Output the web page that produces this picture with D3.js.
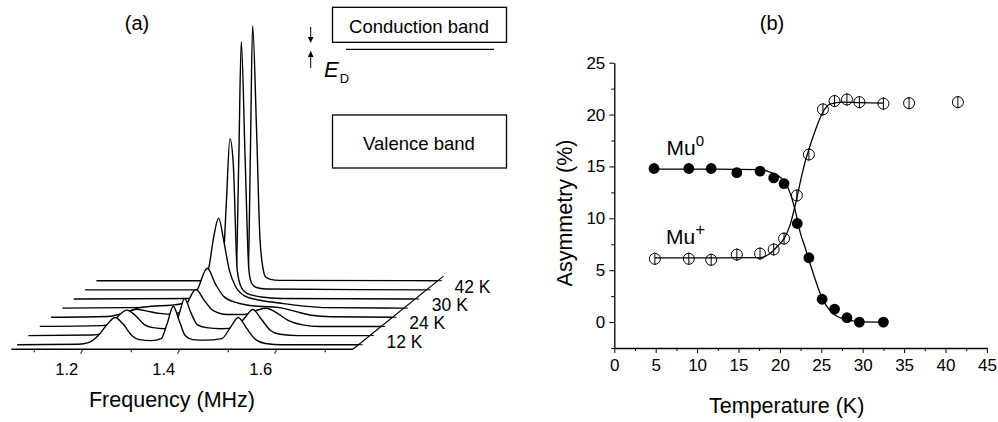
<!DOCTYPE html>
<html>
<head>
<meta charset="utf-8">
<script src="https://cdn.jsdelivr.net/npm/d3@7"></script>
<style>
  html, body { margin: 0; padding: 0; background: #fff; }
  svg { display: block; font-family: "Liberation Sans", Arial, Helvetica, sans-serif; }
</style>
</head>
<body>
<svg id="chart" width="998" height="422"></svg>
<script>
// ---------- Panel (a): muon spin rotation spectra, stacked by temperature ----------
const freqMajorTicks = [1.2, 1.4, 1.6];
const freqMinorTicks = [1.1, 1.3, 1.5, 1.7];
const sliceLabelIndex = [0, 2, 4, 6];
const sliceLabels = ["12 K", "24 K", "30 K", "42 K"];

// [frequency (MHz), intensity (% of the largest line)], front slice first
const spectrum0 = [[1.053,0],[1.18,0.2],[1.2,0.8],[1.22,3.5],[1.238,7.8],[1.255,10.7],[1.272,8],[1.29,3.5],[1.305,2],[1.33,1.6],[1.35,2.4],[1.362,8],[1.375,15.1],[1.388,9],[1.4,3.5],[1.415,2],[1.44,1.8],[1.475,2.4],[1.492,6.5],[1.509,10.7],[1.526,6.5],[1.545,2],[1.565,0.5],[1.6,0],[1.757,0]];
const spectrum1 = [[1.053,0],[1.185,0.2],[1.205,1],[1.222,3.9],[1.24,8],[1.256,10.0],[1.273,8],[1.292,4.3],[1.31,3.1],[1.335,2.7],[1.352,3.5],[1.363,8],[1.375,14.5],[1.388,9],[1.401,4.3],[1.42,3.1],[1.45,2.7],[1.48,3.1],[1.498,6.7],[1.516,10.2],[1.533,6.5],[1.552,2],[1.572,0.5],[1.61,0],[1.757,0]];
const spectrum2 = [[1.053,0],[1.18,0.3],[1.21,2],[1.232,5],[1.252,6.7],[1.272,6.1],[1.3,5.1],[1.33,4.7],[1.352,7.5],[1.375,14.5],[1.393,10],[1.41,6.3],[1.44,4.7],[1.475,4.7],[1.5,6.3],[1.52,7.1],[1.54,5.5],[1.565,2.4],[1.595,0.6],[1.63,0],[1.757,0]];
const spectrum3 = [[1.053,0],[1.17,0.3],[1.2,1.5],[1.23,3.5],[1.26,4.3],[1.3,4.7],[1.335,5.9],[1.355,11],[1.375,19.2],[1.392,13],[1.41,8],[1.44,5.5],[1.48,4.3],[1.52,3.9],[1.555,2.4],[1.59,0.8],[1.63,0.2],[1.757,0]];
const spectrum4 = [[1.053,0],[1.25,0.3],[1.3,1.2],[1.33,3],[1.345,8.5],[1.356,17],[1.365,28],[1.375,35.3],[1.386,26],[1.397,15],[1.41,8.5],[1.43,4.7],[1.46,3.1],[1.5,2],[1.55,0.8],[1.6,0.2],[1.757,0]];
const spectrum5 = [[1.053,0],[1.3,0.2],[1.335,1],[1.35,3],[1.36,11.4],[1.3675,37.3],[1.375,62.9],[1.3818,53.3],[1.39,11.4],[1.398,4.7],[1.41,2.2],[1.44,0.8],[1.48,0.2],[1.757,0]];
const spectrum6 = [[1.053,0],[1.345,0],[1.358,1.2],[1.3647,7.8],[1.37,52.5],[1.375,97.3],[1.383,51],[1.3907,7.8],[1.396,2.7],[1.405,1],[1.425,0.3],[1.757,0]];
const spectrum7 = [[1.053,0],[1.35,0],[1.36,1],[1.366,4.7],[1.3705,51],[1.375,100],[1.3832,58.8],[1.39,17.3],[1.397,4.2],[1.402,1.4],[1.412,0.5],[1.43,0.1],[1.757,0]];
const spectra = [spectrum0, spectrum1, spectrum2, spectrum3, spectrum4, spectrum5, spectrum6, spectrum7];

// ---------- Panel (b): asymmetry of the two muonium states ----------
const tempMuZero = [4.8, 9.0, 11.7, 14.8, 17.6, 19.25, 20.5, 22.1, 23.5, 25.1, 26.6, 28.1, 29.6, 32.5];
const asymMuZero = [14.8, 14.8, 14.8, 14.4, 14.55, 13.9, 13.35, 9.5, 6.2, 2.2, 1.25, 0.42, 0.0, 0.0];
const tempMuPlus = [4.9, 9.0, 11.7, 14.8, 17.6, 19.25, 20.5, 22.05, 23.5, 25.2, 26.6, 28.1, 29.6, 32.5, 35.6, 41.5];
const asymMuPlus = [6.1, 6.1, 6.0, 6.5, 6.6, 7.0, 8.05, 12.2, 16.15, 20.5, 21.3, 21.45, 21.2, 21.05, 21.1, 21.2];
const errMuPlus  = [0.6, 0.6, 0.6, 0.6, 0.6, 0.6, 0.6, 0.6, 0.6, 0.6, 0.6, 0.6, 0.6, 0.6, 0.6, 0.6];

// fitted curves
const fitTempZero = [4.8, 12, 17.6, 18.8, 20.4, 21.2, 21.74, 22.1, 22.5, 23.0, 23.5, 24.44, 25.1, 26.05, 27.66, 29.6, 32.5];
const fitAsymZero = [14.75, 14.75, 14.7, 14.45, 13.7, 12.5, 11.1, 9.9, 8.5, 7.3, 6.0, 3.7, 2.3, 1.1, 0.3, 0.05, 0.0];
const fitTempPlus = [4.9, 12, 17.6, 18.8, 19.8, 20.5, 21.2, 21.74, 22.06, 22.6, 23.0, 23.48, 24.24, 25.17, 26.05, 27.66, 29.6, 32.5];
const fitAsymPlus = [6.18, 6.18, 6.21, 6.6, 7.4, 8.05, 9.3, 10.9, 12.0, 14.0, 15.3, 16.6, 18.4, 20.2, 21.0, 21.2, 21.15, 21.1];

const tempTicks = [0, 5, 10, 15, 20, 25, 30, 35, 40, 45];
const tempMinorTicks = [2.5, 7.5, 12.5, 17.5, 22.5, 27.5, 32.5, 37.5, 42.5];
const asymTicks = [0, 5, 10, 15, 20, 25];
const asymMinorTicks = [-2.5, 2.5, 7.5, 12.5, 17.5, 22.5];

const svg = d3.select("#chart");
const ink = "#000";

// ================= Panel (a) =================
const gA = svg.append("g");
const xA = d3.scaleLinear().domain([1.2, 1.6]).range([82.7, 276.7]);
const freqLo = 1.053, freqHi = 1.757;
const floorY = 349.3;
const depthX = d3.scaleLinear().domain([0, 8]).range([0, 90.7]);
const depthY = d3.scaleLinear().domain([0, 8]).range([0, -73.2]);
const ampA = d3.scaleLinear().domain([0, 100]).range([0, 255]);

// front frequency axis
gA.append("line")
  .attr("x1", xA(freqLo)).attr("x2", xA(freqHi))
  .attr("y1", floorY).attr("y2", floorY)
  .attr("stroke", ink).attr("stroke-width", 1.4);
// depth axis along the right edge
gA.append("line")
  .attr("x1", xA(freqHi)).attr("y1", floorY)
  .attr("x2", xA(freqHi) + depthX(8)).attr("y2", floorY + depthY(8))
  .attr("stroke", ink).attr("stroke-width", 1.2);

gA.selectAll(".ftickMaj").data(freqMajorTicks).join("line")
  .attr("x1", d => xA(d)).attr("y1", floorY)
  .attr("x2", d => xA(d) - 2).attr("y2", floorY + 4.5)
  .attr("stroke", ink).attr("stroke-width", 1);
gA.selectAll(".ftickMin").data(freqMinorTicks).join("line")
  .attr("x1", d => xA(d)).attr("y1", floorY)
  .attr("x2", d => xA(d)).attr("y2", floorY + 3)
  .attr("stroke", ink).attr("stroke-width", 1);
gA.selectAll(".flab").data(freqMajorTicks).join("text")
  .attr("x", d => xA(d) - 16).attr("y", 375)
  .attr("text-anchor", "middle").attr("font-size", 16.5).attr("fill", ink)
  .text(d => d3.format(".1f")(d));

// depth ticks and temperature labels
gA.selectAll(".dtick").data(d3.range(8)).join("line")
  .attr("x1", d => xA(freqHi) + depthX(d + 0.5)).attr("y1", d => floorY + depthY(d + 0.5))
  .attr("x2", d => xA(freqHi) + depthX(d + 0.5) + 4).attr("y2", d => floorY + depthY(d + 0.5))
  .attr("stroke", ink).attr("stroke-width", 1);
gA.selectAll(".dlab").data(sliceLabelIndex).join("text")
  .attr("x", d => xA(freqHi) + depthX(d + 0.5) + 28)
  .attr("y", d => floorY + depthY(d + 0.5) + 3)
  .attr("font-size", 17.5).attr("fill", ink)
  .text((d, k) => sliceLabels[k]);

// spectra, back to front, each one hiding what lies behind it
for (let i = spectra.length - 1; i >= 0; i--) {
  const ox = depthX(i + 0.5), oy = floorY + depthY(i + 0.5);
  const sx = d => xA(d[0]) + ox;
  const area = d3.area().x(sx).y0(oy).y1(d => oy - ampA(d[1])).curve(d3.curveMonotoneX);
  const line = d3.line().x(sx).y(d => oy - ampA(d[1])).curve(d3.curveMonotoneX);
  gA.append("path").attr("d", area(spectra[i])).attr("fill", "#fff");
  gA.append("path").attr("d", line(spectra[i]))
    .attr("fill", "none").attr("stroke", ink).attr("stroke-width", 1.4)
    .attr("stroke-linejoin", "round");
}

gA.append("text").attr("x", 172).attr("y", 406.7).attr("text-anchor", "middle")
  .attr("font-size", 21.5).attr("fill", ink).text("Frequency (MHz)");
gA.append("text").attr("x", 137).attr("y", 30).attr("text-anchor", "middle")
  .attr("font-size", 20).attr("fill", ink).text("(a)");

// band diagram
gA.append("rect").attr("x", 332.5).attr("y", 7.3).attr("width", 174).attr("height", 35)
  .attr("fill", "none").attr("stroke", ink).attr("stroke-width", 1.3);
gA.append("text").attr("x", 419).attr("y", 33).attr("text-anchor", "middle")
  .attr("font-size", 18.5).attr("fill", ink).text("Conduction band");
gA.append("line").attr("x1", 346).attr("x2", 494).attr("y1", 49.3).attr("y2", 49.3)
  .attr("stroke", ink).attr("stroke-width", 1.3);
gA.append("rect").attr("x", 332.5).attr("y", 115).attr("width", 174).attr("height", 53)
  .attr("fill", "none").attr("stroke", ink).attr("stroke-width", 1.3);
gA.append("text").attr("x", 419).attr("y", 150).attr("text-anchor", "middle")
  .attr("font-size", 18.5).attr("fill", ink).text("Valence band");
// E_D arrows
gA.append("line").attr("x1", 310.7).attr("x2", 310.7).attr("y1", 27).attr("y2", 38)
  .attr("stroke", ink).attr("stroke-width", 1);
gA.append("path").attr("d", "M307.9,37 L313.5,37 L310.7,43 Z").attr("fill", ink);
gA.append("line").attr("x1", 310.7).attr("x2", 310.7).attr("y1", 55).attr("y2", 68.3)
  .attr("stroke", ink).attr("stroke-width", 1);
gA.append("path").attr("d", "M307.9,57 L313.5,57 L310.7,50.7 Z").attr("fill", ink);
const ed = gA.append("text").attr("x", 324).attr("y", 77).attr("font-size", 22).attr("fill", ink);
ed.append("tspan").attr("font-style", "italic").text("E");
ed.append("tspan").attr("font-size", 13).attr("dy", 6).attr("dx", 1).text("D");

// ================= Panel (b) =================
const gB = svg.append("g");
const xB = d3.scaleLinear().domain([0, 45]).range([614.3, 986.9]);
const yB = d3.scaleLinear().domain([-2.5, 25]).range([348, 62.7]);

gB.append("g").attr("transform", `translate(0,${yB(-2.5)})`)
  .call(d3.axisBottom(xB).tickValues(tempTicks).tickSize(5).tickSizeOuter(0).tickPadding(6));
gB.append("g").attr("transform", `translate(0,${yB(-2.5)})`)
  .call(d3.axisBottom(xB).tickValues(tempMinorTicks).tickSize(3).tickSizeOuter(0).tickFormat(""))
  .select(".domain").remove();
gB.append("g").attr("transform", `translate(${xB(0)},0)`)
  .call(d3.axisLeft(yB).tickValues(asymTicks).tickSize(5).tickSizeOuter(0).tickPadding(4));
gB.append("g").attr("transform", `translate(${xB(0)},0)`)
  .call(d3.axisLeft(yB).tickValues(asymMinorTicks).tickSize(3).tickSizeOuter(0).tickFormat(""))
  .select(".domain").remove();
gB.selectAll(".domain").attr("stroke", ink).attr("stroke-width", 1.3);
gB.selectAll(".tick line").attr("stroke", ink).attr("stroke-width", 1);
gB.selectAll(".tick text").attr("font-size", 17).attr("fill", ink)
  .attr("font-family", "\"Liberation Sans\", Arial, Helvetica, sans-serif");

// fitted curves
const fitLine = d3.line().x(d => xB(d[0])).y(d => yB(d[1])).curve(d3.curveMonotoneX);
gB.append("path").attr("d", fitLine(d3.zip(fitTempZero, fitAsymZero)))
  .attr("fill", "none").attr("stroke", ink).attr("stroke-width", 1.3);
gB.append("path").attr("d", fitLine(d3.zip(fitTempPlus, fitAsymPlus)))
  .attr("fill", "none").attr("stroke", ink).attr("stroke-width", 1.3);

// Mu+ points: open circles with error bars
const plusPts = d3.zip(tempMuPlus, asymMuPlus, errMuPlus);
gB.selectAll(".pc").data(plusPts).join("circle")
  .attr("cx", d => xB(d[0])).attr("cy", d => yB(d[1])).attr("r", 5.5)
  .attr("fill", "none").attr("stroke", ink).attr("stroke-width", 1);
gB.selectAll(".pe").data(plusPts).join("line")
  .attr("x1", d => xB(d[0])).attr("x2", d => xB(d[0]))
  .attr("y1", d => yB(d[1] - d[2])).attr("y2", d => yB(d[1] + d[2]))
  .attr("stroke", ink).attr("stroke-width", 1);
// Mu0 points: filled circles
gB.selectAll(".zc").data(d3.zip(tempMuZero, asymMuZero)).join("circle")
  .attr("cx", d => xB(d[0])).attr("cy", d => yB(d[1])).attr("r", 5.4)
  .attr("fill", ink);

// labels
const l0 = gB.append("text").attr("x", 666.5).attr("y", 155).attr("font-size", 21).attr("fill", ink);
l0.append("tspan").text("Mu");
l0.append("tspan").attr("font-size", 15).attr("dy", -9).text("0");
const lp = gB.append("text").attr("x", 666).attr("y", 244).attr("font-size", 21).attr("fill", ink);
lp.append("tspan").text("Mu");
lp.append("tspan").attr("font-size", 17).attr("dy", -9).text("+");

gB.append("text").attr("x", 786.7).attr("y", 413).attr("text-anchor", "middle")
  .attr("font-size", 21.5).attr("fill", ink).text("Temperature (K)");
gB.append("text").attr("transform", "translate(572,213) rotate(-90)").attr("text-anchor", "middle")
  .attr("font-size", 21.5).attr("fill", ink).text("Asymmetry (%)");
gB.append("text").attr("x", 772).attr("y", 30).attr("text-anchor", "middle")
  .attr("font-size", 20).attr("fill", ink).text("(b)");
</script>
</body>
</html>
